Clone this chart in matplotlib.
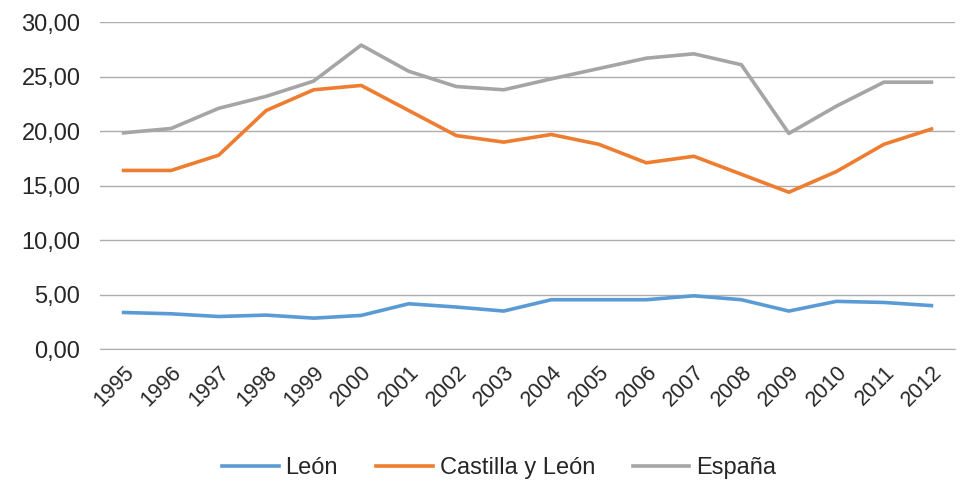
import matplotlib
matplotlib.use("Agg")

import matplotlib.pyplot as plt
from matplotlib.ticker import FuncFormatter

# data
years = ["1995", "1996", "1997", "1998", "1999", "2000", "2001", "2002", "2003",
         "2004", "2005", "2006", "2007", "2008", "2009", "2010", "2011", "2012"]

leon = [3.37, 3.25, 3.0, 3.13, 2.85, 3.1, 4.17, 3.87, 3.5,
        4.54, 4.54, 4.54, 4.9, 4.54, 3.5, 4.39, 4.29, 4.0]

castilla_leon = [16.4, 16.4, 17.8, 21.9, 23.8, 24.2, 21.9, 19.6, 19.0,
                 19.7, 18.8, 17.1, 17.7, 16.05, 14.4, 16.3, 18.8, 20.2]

espana = [19.85, 20.25, 22.1, 23.2, 24.6, 27.9, 25.5, 24.1, 23.8,
          24.8, 25.75, 26.7, 27.1, 26.1, 19.8, 22.3, 24.5, 24.5]

plt.rcParams["font.family"] = ["Liberation Sans", "DejaVu Sans"]

fig = plt.figure(figsize=(9.6, 4.83), dpi=100)
ax = fig.add_axes([0.104, 0.277, 0.891, 0.677])

x = range(len(years))

ax.plot(x, leon, color="#5B9BD5", linewidth=2.6, label="León")
ax.plot(x, castilla_leon, color="#ED7D31", linewidth=2.6, label="Castilla y León")
ax.plot(x, espana, color="#A5A5A5", linewidth=2.6, label="España")

ax.set_xlim(-0.5, len(years) - 0.5)
ax.set_ylim(0, 30)
ax.set_yticks([0, 5, 10, 15, 20, 25, 30])
ax.yaxis.set_major_formatter(FuncFormatter(lambda v, p: f"{v:.2f}".replace(".", ",")))

ax.set_xticks(list(x))
ax.set_xticklabels(years, rotation=45, ha="right", rotation_mode="anchor")

ax.grid(axis="y", color="#ADADAD", linewidth=1)
ax.set_axisbelow(True)
for side in ["top", "right", "left"]:
    ax.spines[side].set_visible(False)
ax.spines["bottom"].set_color("#ADADAD")

ax.tick_params(axis="both", length=0, colors="#262626")
ax.tick_params(axis="y", labelsize=17, pad=14)
ax.tick_params(axis="x", labelsize=15.5, pad=9)

fig.legend(
    loc="center",
    bbox_to_anchor=(0.52, 0.031),
    ncol=3,
    frameon=False,
    fontsize=17,
    handlelength=2.4,
    handletextpad=0.3,
    columnspacing=1.6,
    labelcolor="#262626",
)

fig.savefig("out.png", dpi=100)
